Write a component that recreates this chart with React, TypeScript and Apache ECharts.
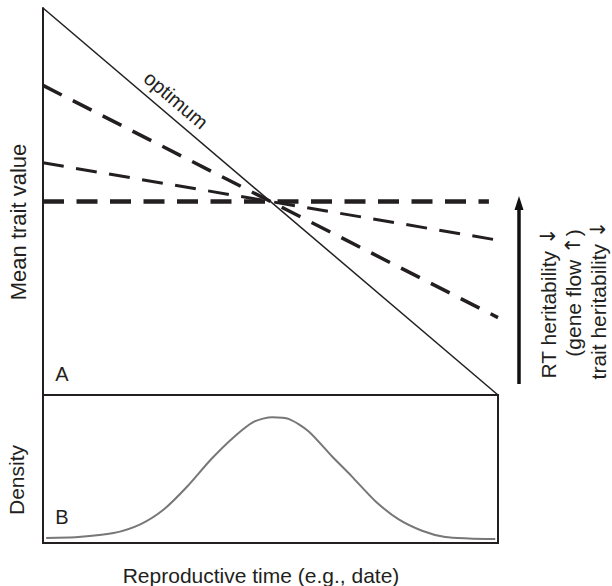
import React, { useEffect, useRef } from "react";
import * as echarts from "echarts";

// Panel A (x: reproductive time 0..100, y: mean trait value 0..100)
const optimumX = [0, 100];
const optimumY = [100, 0];
const flatX = [0, 98];
const flatY = [50, 50];
const steepX = [0, 100];
const steepY = [80, 20];
const shallowX = [0, 100];
const shallowY = [60, 40];

// Panel B (density)
const densityX = [0.7, 7.7, 15.5, 21.5, 26.6, 31.8, 36.9, 42.1, 46.4, 50.4, 54.1, 58.4, 63.5, 67.8, 73.0, 78.1, 83.3, 88.4, 93.6, 99.4];
const densityY = [3.4, 4.0, 6.7, 12.8, 22.8, 38.5, 56.4, 72.0, 82.0, 85.0, 83.7, 75.4, 58.6, 45.2, 28.4, 16.1, 8.3, 4.0, 3.1, 2.7];

const zip = (xs: number[], ys: number[]) => xs.map((x, i) => [x, ys[i]]);

const FONT = "'Liberation Sans', Arial, Helvetica, sans-serif";
const INK = "#231f20";
const DASH = [21, 12.5];

export default function App() {
  const ref = useRef<HTMLDivElement>(null);
  useEffect(() => {
    if (!ref.current) return;
    const chart = echarts.init(ref.current, undefined, { renderer: "svg" });
    const hiddenAxis = {
      type: "value" as const,
      min: 0,
      max: 100,
      axisLabel: { show: false },
      axisTick: { show: false },
      splitLine: { show: false },
    };
    const txt = (text: string, x: number, y: number, rotation = 0, size = 20) => ({
      type: "text",
      x,
      y,
      rotation,
      style: {
        text,
        fill: INK,
        font: `${size}px ${FONT}`,
        align: "center",
        verticalAlign: "middle",
        rich: {
          a: { fill: INK, font: `${size}px 'DejaVu Sans', sans-serif` },
        },
      },
    });
    chart.setOption({
      animation: false,
      backgroundColor: "#ffffff",
      grid: [
        { left: 43, top: 8, width: 455, height: 387, show: false },
        { left: 43, top: 395, width: 455, height: 148, show: true, borderColor: INK, borderWidth: 2 },
      ],
      xAxis: [
        { ...hiddenAxis, gridIndex: 0, axisLine: { show: false } },
        { ...hiddenAxis, gridIndex: 1, axisLine: { show: false } },
      ],
      yAxis: [
        { ...hiddenAxis, gridIndex: 0, axisLine: { show: true, lineStyle: { color: INK, width: 2 } } },
        { ...hiddenAxis, gridIndex: 1, axisLine: { show: false } },
      ],
      series: [
        {
          type: "line",
          xAxisIndex: 0,
          yAxisIndex: 0,
          data: zip(optimumX, optimumY),
          symbol: "none",
          lineStyle: { color: INK, width: 1.5 },
        },
        {
          type: "line",
          xAxisIndex: 0,
          yAxisIndex: 0,
          data: zip(flatX, flatY),
          symbol: "none",
          lineStyle: { color: INK, width: 4.5, type: DASH },
        },
        {
          type: "line",
          xAxisIndex: 0,
          yAxisIndex: 0,
          data: zip(steepX, steepY),
          symbol: "none",
          lineStyle: { color: INK, width: 3.5, type: DASH },
        },
        {
          type: "line",
          xAxisIndex: 0,
          yAxisIndex: 0,
          data: zip(shallowX, shallowY),
          symbol: "none",
          lineStyle: { color: INK, width: 3, type: DASH },
        },
        {
          type: "line",
          xAxisIndex: 1,
          yAxisIndex: 1,
          data: zip(densityX, densityY),
          symbol: "none",
          smooth: 0.25,
          lineStyle: { color: "#777777", width: 2 },
        },
      ],
      graphic: [
        txt("optimum", 176, 100, -Math.atan(387 / 455), 20),
        txt("A", 62, 374),
        txt("B", 62, 517),
        txt("Mean trait value", 18, 222, Math.PI / 2, 22),
        txt("Density", 16, 480, Math.PI / 2, 21),
        txt("Reproductive time (e.g., date)", 261, 575, 0, 21),
        txt("RT heritability {a|\u2193}", 548, 303, Math.PI / 2, 21),
        txt("(gene flow {a|\u2191})", 573, 293, Math.PI / 2, 21),
        txt("trait heritability {a|\u2193}", 598, 300, Math.PI / 2, 21),
        {
          type: "line",
          shape: { x1: 519, y1: 384, x2: 519, y2: 206 },
          style: { stroke: "#111111", lineWidth: 3.5 },
        },
        {
          type: "polygon",
          shape: { points: [[519, 196], [514.5, 210], [523.5, 210]] },
          style: { fill: "#111111" },
        },
      ],
    });
    return () => chart.dispose();
  }, []);
  return (
    <div
      ref={ref}
      style={{ position: "fixed", left: 0, top: 0, width: 612, height: 586 }}
    />
  );
}
